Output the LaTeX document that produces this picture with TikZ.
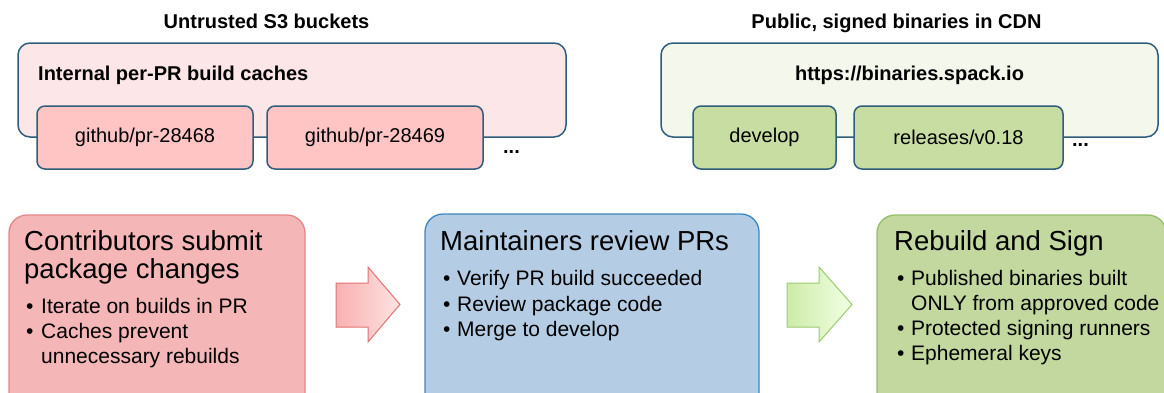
\documentclass[tikz,border=0pt]{standalone}
\usepackage{fontspec}
\setmainfont{Liberation Sans}
\definecolor{slate}{HTML}{2F5D7C}
\definecolor{pinkouter}{HTML}{FDE6E7}
\definecolor{pinkinner}{HTML}{FFC5C5}
\definecolor{greenouter}{HTML}{F4F7EB}
\definecolor{greeninner}{HTML}{C8DDA2}
\definecolor{redfill}{HTML}{F4B6B6}
\definecolor{redline}{HTML}{E58585}
\definecolor{bluefill}{HTML}{B4CDE4}
\definecolor{blueline}{HTML}{3D85C0}
\definecolor{greenfill}{HTML}{C2D89E}
\definecolor{greenline}{HTML}{93BF68}
\definecolor{rarrowA}{HTML}{F9B0B0}
\definecolor{rarrowB}{HTML}{FFE3E3}
\definecolor{rarrowline}{HTML}{E27272}
\definecolor{garrowA}{HTML}{CDEBA8}
\definecolor{garrowB}{HTML}{F2FFE4}
\definecolor{garrowline}{HTML}{9CCB6E}
\begin{document}
\begin{tikzpicture}[x=1pt,y=-1pt,
  titletext/.style={font=\fontsize{20}{24}\selectfont\bfseries, anchor=base, inner sep=0},
  hdrtext/.style={font=\fontsize{20}{24}\selectfont\bfseries, inner sep=0},
  outerbox/.style={draw=slate, line width=1.5pt, rounded corners=12pt, inner sep=0},
  innerbox/.style={draw=slate, line width=1.5pt, rounded corners=8pt, inner sep=0, minimum height=63pt,
     font=\fontsize{20}{24}\selectfont},
  dotstext/.style={font=\fontsize{20}{24}\selectfont\bfseries, anchor=base, inner sep=0},
  bigbox/.style={rounded corners=18pt, inner sep=0, line width=1.3pt},
  headtext/.style={font=\fontsize{27.5}{33}\selectfont, anchor=base west, inner sep=0},
  bullettext/.style={font=\fontsize{21}{25}\selectfont, anchor=base west, inner sep=0},
  redarrow/.style={draw=rarrowline, line width=1pt, left color=rarrowA, right color=rarrowB, line join=miter},
  greenarrow/.style={draw=garrowline, line width=1pt, left color=garrowA, right color=garrowB, line join=miter}
]
\useasboundingbox (0,0) rectangle (1164,392);
\clip (0,0) rectangle (1164,392);

% titles
\node[titletext] (t1) at (266.5,28) {Untrusted S3 buckets};
\node[titletext] (t2) at (896.5,28) {Public, signed binaries in CDN};

% left group
\node[outerbox, fill=pinkouter, minimum width=548pt, minimum height=94pt] (ob1) at (292,90) {};
\node[hdrtext, anchor=base west] (h1) at (38,80) {Internal per-PR build caches};
\node[innerbox, fill=pinkinner, minimum width=216pt] (pr1) at (145,137.5) {github/pr-28468};
\node[innerbox, fill=pinkinner, minimum width=216pt] (pr2) at (375,137.5) {github/pr-28469};
\node[dotstext] (d1) at (511.5,153) {...};

% right group
\node[outerbox, fill=greenouter, minimum width=497pt, minimum height=94pt] (ob2) at (909.5,90) {};
\node[hdrtext, anchor=base] (h2) at (909.5,80) {https://binaries.spack.io};
\node[innerbox, fill=greeninner, minimum width=143pt] (dev) at (764.5,137.5) {develop};
\node[innerbox, fill=greeninner, minimum width=209pt] (rel) at (958.5,137.5) {releases/v0.18};
\node[dotstext] (d2) at (1080.5,146) {...};

% bottom boxes
\node[bigbox, draw=redline, fill=redfill, minimum width=296pt, minimum height=215pt] (contrib) at (157,322.5) {};
\node[bigbox, draw=blueline, fill=bluefill, minimum width=334pt, minimum height=216pt] (maint) at (592,322) {};
\node[bigbox, draw=greenline, fill=greenfill, minimum width=289pt, minimum height=215pt] (sign) at (1021.5,322.5) {};

% arrows
\draw[redarrow] (336,283) -- (368,283) -- (368,267) -- (400,304.5) -- (368,342) -- (368,327) -- (336,327) -- cycle;
\draw[greenarrow] (787,283) -- (819,283) -- (819,267) -- (852,304.5) -- (819,342) -- (819,327) -- (787,327) -- cycle;

% contributors text
\node[headtext] (c1) at (24,250) {Contributors submit};
\node[headtext] (c2) at (24,278) {package changes};
\node[bullettext] (cb1) at (26,313) {•};
\node[bullettext] (ct1) at (41,313) {Iterate on builds in PR};
\node[bullettext] (cb2) at (26,338) {•};
\node[bullettext] (ct2) at (41,338) {Caches prevent};
\node[bullettext] (ct3) at (41,363) {unnecessary rebuilds};

% maintainers text
\node[headtext] (m1) at (440,250) {Maintainers review PRs};
\node[bullettext] (mb1) at (443,285) {•};
\node[bullettext] (mt1) at (457,285) {Verify PR build succeeded};
\node[bullettext] (mb2) at (443,311) {•};
\node[bullettext] (mt2) at (457,311) {Review package code};
\node[bullettext] (mb3) at (443,336) {•};
\node[bullettext] (mt3) at (457,336) {Merge to develop};

% sign text
\node[headtext] (s1) at (894,250) {Rebuild and Sign};
\node[bullettext] (sb1) at (897,285) {•};
\node[bullettext] (st1) at (911,285) {Published binaries built};
\node[bullettext] (st2) at (911,310) {ONLY from approved code};
\node[bullettext] (sb2) at (897,335) {•};
\node[bullettext] (st3) at (911,335) {Protected signing runners};
\node[bullettext] (sb3) at (897,360) {•};
\node[bullettext] (st4) at (911,360) {Ephemeral keys};
\end{tikzpicture}
\end{document}
